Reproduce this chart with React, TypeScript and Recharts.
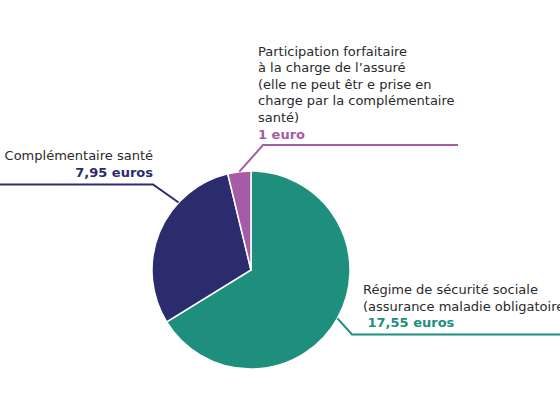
import React from "react";
import { PieChart, Pie, Cell } from "recharts";

// ---- data ----
const categories = [
  "Régime de sécurité sociale",
  "Complémentaire santé",
  "Participation forfaitaire",
];
const values = [17.55, 7.95, 1];
const valueLabels = [" 17,55 euros", "7,95 euros", "1 euro"];
const descriptionLines = [
  ["Régime de sécurité sociale", "(assurance maladie obligatoire)"],
  ["Complémentaire santé"],
  [
    "Participation forfaitaire",
    "à la charge de l’assuré",
    "(elle ne peut êtr e prise en",
    "charge par la complémentaire",
    "santé)",
  ],
];

// ---- styles ----
const COLORS = ["#1d8f7c", "#2b2c6e", "#a65ba6"];
const TEXT = "#2a2a2a";
const FONT = "'DejaVu Sans', 'Open Sans', sans-serif";
const FS = 13;
const LS = 0;
const CX = 251;
const CY = 270;
const R = 99;

const data = categories.map((name, i) => ({ name, value: values[i] }));

// leader-line layout per slice: anchor angle override (deg, null = mid), elbow, end x, text block
const layout = [
  { angle: null, elbow: [352, 334.5], endX: 560, textX: 363, textY: 294, anchor: "start", lh: 16.6 },
  { angle: 137, elbow: [153, 184.5], endX: 0, textX: 153, textY: 160, anchor: "end", lh: 16.6 },
  { angle: null, elbow: [263, 145], endX: 458, textX: 258, textY: 55.5, anchor: "start", lh: 16.6 },
];

const RAD = Math.PI / 180;

function renderLabel(props: any) {
  const { index, midAngle } = props;
  const cx = props.cx ?? CX;
  const cy = props.cy ?? CY;
  const r = props.outerRadius ?? R;
  const L = layout[index];
  const ang = L.angle ?? midAngle;
  const sx = cx + r * Math.cos(-ang * RAD);
  const sy = cy + r * Math.sin(-ang * RAD);
  const [ex, ey] = L.elbow;
  const lines = descriptionLines[index];
  return (
    <g key={`lbl-${index}`}>
      <polyline
        points={`${sx},${sy} ${ex},${ey} ${L.endX},${ey}`}
        fill="none"
        stroke={COLORS[index]}
        strokeWidth={2}
      />
      {lines.map((t, j) => (
        <text
          key={j}
          x={L.textX}
          y={L.textY + j * L.lh}
          textAnchor={L.anchor}
          fill={TEXT}
          fontFamily={FONT}
          fontSize={FS}
          letterSpacing={LS}
          style={{ whiteSpace: "pre" }}
        >
          {t}
        </text>
      ))}
      <text
        x={L.textX}
        y={L.textY + lines.length * L.lh}
        textAnchor={L.anchor}
        fill={COLORS[index]}
        fontFamily={FONT}
        fontSize={FS}
        fontWeight={700}
        style={{ whiteSpace: "pre" }}
      >
        {valueLabels[index]}
      </text>
    </g>
  );
}

export default function App() {
  return (
    <div style={{ position: "absolute", left: 0, top: 0, width: 560, height: 420, background: "#fff", overflow: "hidden" }}>
      <PieChart width={560} height={420} margin={{ top: 0, right: 0, bottom: 0, left: 0 }}>
        <Pie
          data={data}
          dataKey="value"
          nameKey="name"
          cx={CX}
          cy={CY}
          outerRadius={R}
          startAngle={90}
          endAngle={-270}
          stroke="#ffffff"
          strokeWidth={1.5}
          isAnimationActive={false}
          label={renderLabel}
          labelLine={false}
        >
          {data.map((d, i) => (
            <Cell key={d.name} fill={COLORS[i]} />
          ))}
        </Pie>
      </PieChart>
    </div>
  );
}
